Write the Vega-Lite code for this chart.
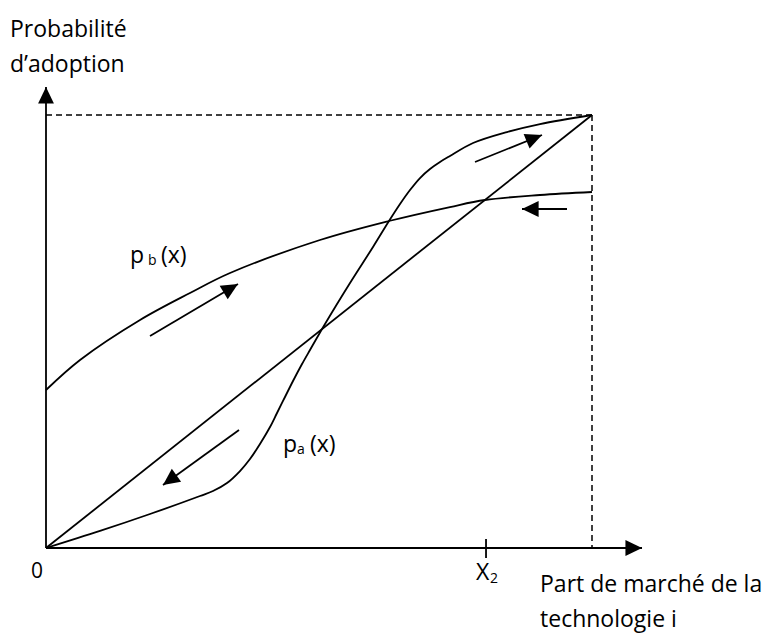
{
  "$schema": "https://vega.github.io/schema/vega-lite/v6.json",
  "width": 767,
  "height": 633,
  "padding": 0,
  "autosize": {"type": "none"},
  "background": "white",
  "config": {"view": {"stroke": null}},
  "datasets": {
    "curves": [
      {"curve": "diag", "x": 0, "y": 0},
      {"curve": "diag", "x": 1, "y": 1},
      {"curve": "pb", "x": 0, "y": 0.3649},
      {"curve": "pb", "x": 0.0623, "y": 0.4342},
      {"curve": "pb", "x": 0.1722, "y": 0.5266},
      {"curve": "pb", "x": 0.2637, "y": 0.5889},
      {"curve": "pb", "x": 0.337, "y": 0.6351},
      {"curve": "pb", "x": 0.5018, "y": 0.7113},
      {"curve": "pb", "x": 0.6282, "y": 0.7552},
      {"curve": "pb", "x": 0.7399, "y": 0.7875},
      {"curve": "pb", "x": 0.804, "y": 0.8037},
      {"curve": "pb", "x": 0.9048, "y": 0.8152},
      {"curve": "pb", "x": 1, "y": 0.8222},
      {"curve": "pa", "x": 0, "y": 0},
      {"curve": "pa", "x": 0.0989, "y": 0.0395},
      {"curve": "pa", "x": 0.1905, "y": 0.0785},
      {"curve": "pa", "x": 0.2821, "y": 0.1201},
      {"curve": "pa", "x": 0.3059, "y": 0.1316},
      {"curve": "pa", "x": 0.3315, "y": 0.1501},
      {"curve": "pa", "x": 0.3553, "y": 0.1778},
      {"curve": "pa", "x": 0.3736, "y": 0.2055},
      {"curve": "pa", "x": 0.3919, "y": 0.2402},
      {"curve": "pa", "x": 0.4103, "y": 0.2794},
      {"curve": "pa", "x": 0.4231, "y": 0.3118},
      {"curve": "pa", "x": 0.4377, "y": 0.3487},
      {"curve": "pa", "x": 0.4524, "y": 0.3857},
      {"curve": "pa", "x": 0.4689, "y": 0.4249},
      {"curve": "pa", "x": 0.4835, "y": 0.4573},
      {"curve": "pa", "x": 0.511, "y": 0.5173},
      {"curve": "pa", "x": 0.5568, "y": 0.612},
      {"curve": "pa", "x": 0.5989, "y": 0.6952},
      {"curve": "pa", "x": 0.6282, "y": 0.7552},
      {"curve": "pa", "x": 0.6484, "y": 0.7945},
      {"curve": "pa", "x": 0.6667, "y": 0.8268},
      {"curve": "pa", "x": 0.685, "y": 0.8545},
      {"curve": "pa", "x": 0.7033, "y": 0.8753},
      {"curve": "pa", "x": 0.7216, "y": 0.8915},
      {"curve": "pa", "x": 0.7399, "y": 0.9053},
      {"curve": "pa", "x": 0.7821, "y": 0.9353},
      {"curve": "pa", "x": 0.8443, "y": 0.9607},
      {"curve": "pa", "x": 0.9048, "y": 0.9792},
      {"curve": "pa", "x": 1, "y": 1}
    ],
    "segments": [
      {"name": "xaxis", "x": 0, "y": 0, "x2": 1.0916, "y2": 0},
      {"name": "yaxis", "x": 0, "y": 0, "x2": 0, "y2": 1.0647},
      {"name": "tickX2", "x": 0.8059, "y": 0.0208, "x2": 0.8059, "y2": -0.0231},
      {"name": "a1", "x": 0.1905, "y": 0.4896, "x2": 0.3516, "y2": 0.6097},
      {"name": "a2", "x": 0.7857, "y": 0.8915, "x2": 0.9084, "y2": 0.9538},
      {"name": "a3", "x": 0.9542, "y": 0.7829, "x2": 0.8718, "y2": 0.7829},
      {"name": "a4", "x": 0.3535, "y": 0.2725, "x2": 0.2143, "y2": 0.1455}
    ],
    "dashed": [
      {"x": 0, "y": 1, "x2": 1, "y2": 1},
      {"x": 1, "y": 1, "x2": 1, "y2": 0}
    ],
    "heads": [
      {"name": "xaxis", "x": 1.0916, "y": 0, "dir": 90},
      {"name": "yaxis", "x": 0, "y": 1.0647, "dir": 0},
      {"name": "a1", "x": 0.3516, "y": 0.6097, "dir": 59.4},
      {"name": "a2", "x": 0.9084, "y": 0.9538, "dir": 68},
      {"name": "a3", "x": 0.8718, "y": 0.7829, "dir": 270},
      {"name": "a4", "x": 0.2143, "y": 0.1455, "dir": 234.1}
    ],
    "labels": [
      {"text": "Probabilité", "x": -0.0659, "y": 1.1801},
      {"text": "d’adoption", "x": -0.0659, "y": 1.0993},
      {"text": "Part de marché de la", "x": 0.9048, "y": -0.1016},
      {"text": "technologie i", "x": 0.9048, "y": -0.1824},
      {"text": "X", "x": 0.7875, "y": -0.0739},
      {"text": "p", "x": 0.1538, "y": 0.6582},
      {"text": "(x)", "x": 0.2106, "y": 0.6582},
      {"text": "p", "x": 0.4341, "y": 0.2217},
      {"text": "(x)", "x": 0.4835, "y": 0.2217}
    ],
    "subs": [
      {"text": "b", "x": 0.1868, "y": 0.6536},
      {"text": "a", "x": 0.4597, "y": 0.2171},
      {"text": "2", "x": 0.8132, "y": -0.0808}
    ],
    "origin": [
      {"text": "0", "x": -0.0165, "y": -0.0693}
    ]
  },
  "encoding": {
    "x": {"field": "x", "type": "quantitative", "scale": {"domain": [-0.08425, 1.32051], "nice": false, "zero": false}, "axis": null},
    "y": {"field": "y", "type": "quantitative", "scale": {"domain": [-0.1963, 1.26559], "nice": false, "zero": false}, "axis": null}
  },
  "layer": [
    {
      "data": {"name": "curves"},
      "mark": {"type": "line", "interpolate": "catmull-rom", "color": "black", "strokeWidth": 1.8},
      "encoding": {"detail": {"field": "curve", "type": "nominal"}}
    },
    {
      "data": {"name": "segments"},
      "mark": {"type": "rule", "color": "black", "strokeWidth": 1.8},
      "encoding": {
        "x2": {"field": "x2"},
        "y2": {"field": "y2"}
      }
    },
    {
      "data": {"name": "dashed"},
      "mark": {"type": "rule", "color": "black", "strokeWidth": 1.5, "strokeDash": [6, 4]},
      "encoding": {
        "x2": {"field": "x2"},
        "y2": {"field": "y2"}
      }
    },
    {
      "data": {"name": "heads"},
      "mark": {"type": "point", "shape": "M0,0L-0.5,1.05L0.5,1.05Z", "size": 1000, "filled": true, "color": "black", "opacity": 1, "strokeWidth": 0},
      "encoding": {
        "angle": {"field": "dir", "type": "quantitative", "scale": null}
      }
    },
    {
      "data": {"name": "labels"},
      "mark": {"type": "text", "align": "left", "baseline": "alphabetic", "font": "Open Sans", "fontSize": 23, "color": "black"},
      "encoding": {"text": {"field": "text"}}
    },
    {
      "data": {"name": "subs"},
      "mark": {"type": "text", "align": "left", "baseline": "alphabetic", "font": "Open Sans", "fontSize": 14, "color": "black"},
      "encoding": {"text": {"field": "text"}}
    },
    {
      "data": {"name": "origin"},
      "mark": {"type": "text", "align": "center", "baseline": "alphabetic", "font": "Open Sans", "fontSize": 21, "color": "black"},
      "encoding": {"text": {"field": "text"}}
    }
  ]
}
